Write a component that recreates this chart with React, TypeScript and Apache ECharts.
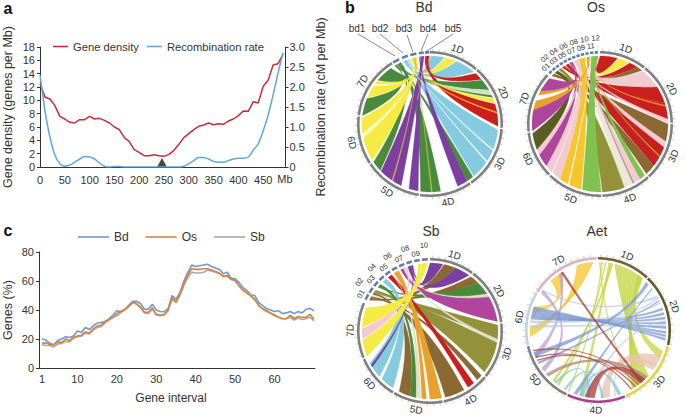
import React, { useEffect, useRef } from "react";
import * as echarts from "echarts";

const FONT = "'Liberation Sans', Arial, sans-serif";
const INK = "#333333";

// Panel a
const positionsMb = [0, 5, 10, 20, 30, 40, 50, 60, 70, 80, 90, 100, 110, 120, 130, 140, 150, 160, 170, 180, 190, 200, 210, 220, 230, 240, 250, 260, 270, 280, 290, 300, 310, 320, 330, 340, 350, 360, 370, 380, 390, 400, 410, 420, 430, 440, 450, 460, 470, 480, 490];
const geneDensity = [12.5, 11.5, 10.5, 10.2, 9.2, 7.6, 7.2, 6.7, 6.6, 7.1, 7.1, 7.6, 7.2, 7.3, 7, 6.6, 6, 5.6, 4.4, 3.8, 2.6, 2.2, 1.7, 1.7, 1.85, 1.7, 1.6, 1.9, 2.5, 3.4, 4.4, 5, 5.6, 6.1, 6.3, 6.6, 6.35, 6.5, 6.4, 6.9, 7.2, 7.7, 8.4, 8.35, 9.8, 9.6, 12.1, 13, 15.3, 15.5, 16.9];
const recombinationRate = [2.3, 1.85, 1.4, 0.75, 0.3, 0.08, 0.02, 0.05, 0.12, 0.2, 0.26, 0.25, 0.2, 0.1, 0.02, 0, 0.01, 0.01, 0, 0, 0, 0, 0, 0, 0, 0, 0, 0, 0, 0, 0.02, 0.08, 0.16, 0.24, 0.24, 0.2, 0.14, 0.12, 0.12, 0.16, 0.2, 0.22, 0.22, 0.25, 0.42, 0.58, 0.9, 1.3, 1.8, 2.35, 2.85];
const centromereMb = 246;

// Panel c
const geneIntervals = Array.from({ length: 70 }, (_, i) => i + 1);
const intervalTicks = [1, 10, 20, 30, 40, 50, 60];
const genesBd = [20, 19.3, 17, 16, 19, 20, 21.5, 21, 22, 25.5, 24.5, 28, 26.5, 29, 31, 31.3, 32, 34, 36.5, 39.5, 39, 40, 43, 46, 46, 44.5, 40.5, 40.5, 44, 40, 39, 38.8, 41, 50, 47.5, 52, 60, 66, 71, 70, 70.5, 71, 71.5, 70, 69, 68, 65, 66, 62, 61.5, 59, 55.5, 53.5, 50.5, 50, 45, 43, 41, 40, 39, 39.5, 37.5, 38, 39, 37.5, 39, 38, 40.5, 41, 39.5];
const genesOs = [17, 17.5, 16, 16, 18, 17.5, 20, 19, 21, 22, 22.5, 25, 24, 27, 29, 29.5, 32, 33.5, 35, 37.5, 39, 40.5, 43, 45.5, 44.5, 42, 38.5, 38.5, 41.5, 37, 36.5, 37, 40, 48.5, 46, 51, 58, 64, 68.5, 68, 68, 68.5, 68.5, 67.5, 66.5, 65.5, 63, 64, 61.5, 60.5, 56.5, 53.5, 51.5, 49.5, 47, 43, 41, 39.5, 38, 36.5, 35, 34, 34, 36.5, 34, 35.5, 35, 35, 37, 33.5];
const genesSb = [16, 15.5, 15.5, 14.5, 16.5, 17, 18.5, 18, 20.5, 21.5, 22, 24, 23.5, 26, 28, 28.5, 31, 33, 35, 36, 38, 40, 42, 45, 44, 41.5, 38, 37.5, 40.5, 36.5, 36, 36.5, 39.5, 47.5, 45, 50, 57, 62.5, 66, 65.5, 65.5, 66, 67.5, 67, 66, 65, 63.5, 63, 61, 60, 57, 54, 52, 50, 47.5, 43, 40.5, 39, 37.5, 36, 35, 34, 34, 35, 33, 34.5, 33.5, 34, 35, 32.5];

// Panel b palette
const SKY = "#84cbe0", YEL = "#f6ea45", GRN = "#4a8a3c", RED = "#c9201f", PUR = "#7a3fa0", WHT = "#ffffff";
const PNK = "#f1cbd1", BRN = "#8a6a32", OLV = "#93923b", LGR = "#7fc250", GLD = "#f5c62e", MAG = "#b0459e", ORG = "#e9a12e", DOL = "#5a5c24", PAL = "#dfe0c8";
const LIM = "#c3d640", BLU = "#7e9ad0", LIL = "#b9a0cf", BRK = "#a83c34", TEA = "#7fc8dc", PEA = "#e8c2ae", MAU = "#a98a82", PBL = "#bccbe6";

const chromNames = ["1D", "2D", "3D", "4D", "5D", "6D", "7D"];

// [chromosome start, end] in degrees clockwise from 12 o'clock
const bdChromosomes = [[0, 40], [41, 93], [94, 145], [146, 188], [189, 236], [237, 276], [277, 328]];
const osChromosomes = [[0, 38], [39, 89], [90, 137], [138, 178], [179, 224], [225, 263], [264, 313]];
const sbChromosomes = [[0, 36], [37, 83], [84, 129], [130, 169], [170, 210], [211, 247], [248, 293]];
const aetChromosomes = [[0, 43], [44, 102], [103, 157], [158, 205], [206, 257], [258, 301], [302, 359]];
const aetRingColors = ["#75603a", "#5f5a2c", "#d8d843", "#a8428e", "#808080", "#bcd3e2", "#d9b3c2"];

// [start, end] query chromosome blocks
const bdQueries = [[329, 334.5], [337, 342], [344, 349], [351, 355], [356, 359.5]];
const bdQueryNames = ["bd1", "bd2", "bd3", "bd4", "bd5"];
const osQueries = [[315, 317.6], [318.7, 321.3], [322.4, 325], [326.1, 328.7], [329.8, 332.4], [333.5, 336.1], [337.2, 339.8], [340.9, 343.5], [344.6, 347.2], [348.3, 350.9], [352, 354.6], [355.7, 358.3]];
const osQueryNames = ["01", "02", "03", "04", "05", "06", "07", "08", "09", "10", "11", "12"];
const sbQueries = [[296, 300.6], [302.4, 307], [308.8, 313.4], [315.2, 319.8], [321.6, 326.2], [328, 332.6], [334.4, 339], [340.8, 345.4], [347.2, 351.8], [353.6, 358.2]];
const sbQueryNames = ["01", "02", "03", "04", "05", "06", "07", "08", "09", "10"];

// Ribbons: [a start, a end, b start, b end, colour, optional crossing point]
const bdRibbons: any[] = [
  [95, 110, 339, 340, SKY], [110, 140, 340, 342, SKY], [1, 12, 337, 338, SKY], [23, 40, 338, 339, SKY],
  [13, 22, 344, 345, YEL], [42, 49, 356, 357, RED], [73, 92, 357, 359.5, RED], [50, 60, 329, 330.5, GRN],
  [60, 64, 330.5, 331, "#cfe0c4"], [65, 67, 331, 331.5, GRN], [68, 72, 345, 345.5, YEL], [141, 147, 331.5, 332, GRN],
  [147, 156, 351, 352, PUR], [171, 188, 332, 333.5, GRN], [190, 198, 352.5, 353, PUR], [205, 226, 353, 355, PUR],
  [227, 236, 333.5, 334.5, GRN], [238, 258, 345.5, 347, YEL], [258, 261, 347, 347.2, "#fbf6b0"], [262, 275, 347, 348, YEL], [277, 292, 329, 330, GRN],
  [293, 304, 348, 348.5, YEL], [306, 309, 348.5, 349, YEL], [310, 325, 334, 334.5, GRN],
  [112, 113, 340.4, 340.5, WHT], [123, 124, 341, 341.1, WHT], [80, 81, 345.5, 345.7, GLD], [213, 214, 347, 347.2, "#e3b64a"], [178, 179, 347, 347.2, "#b5c24a"],
];
const osRibbons: any[] = [
  [0, 15, 358, 358.3, RED], [16, 25, 348.3, 349.3, YEL], [26, 33, 326.1, 327, RED], [33, 38, 315, 316, BRN],
  [39, 57, 337.2, 339.8, PNK], [57, 72, 327, 328, RED], [72, 86, 328, 328.7, RED], [74, 75, 349.3, 349.8, ORG],
  [86, 89, 339.8, 340, PNK], [90, 105, 316, 317.6, BRN], [105, 110, 340, 340.9, PNK], [110, 128, 329.8, 332.4, RED],
  [128, 137, 318.7, 321.3, BRN], [139, 144, 352, 353, LGR], [144, 150, 340.4, 340.9, PNK], [150, 159, 341, 341.5, "#ece8d8"],
  [159, 178, 322.4, 325, OLV], [179, 195, 353, 358, LGR], [196, 216, 342, 347.2, GLD], [216, 224, 341, 341.5, PNK],
  [225, 232, 340, 340.9, PNK], [232, 243, 333.5, 334.5, MAG], [243, 248, 339, 339.8, PNK], [248, 262, 319, 321.3, DOL],
  [264, 282, 334.5, 335, MAG], [282, 290, 349.8, 350.4, ORG], [295, 299, 350.4, 350.9, ORG], [299, 312, 335, 336.1, MAG],
  [118, 119, 351, 351.3, "#b5b03c"], [150, 151, 349, 349.3, MAU], [207, 208, 352, 352.3, WHT],
];
const sbRibbons: any[] = [
  [0, 11, 341, 344, PUR], [12, 22, 297, 298, BRN], [22, 35, 344, 345.4, PUR], [37, 45, 298, 299, BRN],
  [45, 57, 310, 311, GRN], [57, 60, 338, 339, PAL], [60, 82, 334.4, 337, MAG], [85, 97, 304, 305.5, OLV],
  [97, 100, 337, 338, PAL], [100, 127, 305.5, 307, OLV], [131, 136, 299, 300, BRN], [140, 146, 322, 326, RED],
  [150, 167, 300, 300.6, BRN], [170, 180, 328, 331, ORG], [183, 187, 331, 332.6, ORG], [188, 192, 326, 326.2, PAL],
  [192, 197, 311, 313.4, GRN], [197, 207, 302.4, 304, BRN], [213, 225, 316, 318, SKY], [228, 242, 318, 320, SKY],
  [238, 240, 345, 345.4, PUR], [248, 262, 350, 353, YEL], [263, 272, 339, 340.5, PNK], [273, 290, 353.6, 358, YEL],
];
const AET_CROSS = [25, 78];
const AET_LIME = [26, 82];
const AET_GOLD_A = [32, 310];
const AET_GOLD_B = [37, 309];
const AET_LILAC = [31, 289];
const aetRibbons: any[] = [
  [1, 2, 148, 149, LIM], [3, 4, 205, 206, LIM], [6, 7, 215, 217, LIM], [9, 11, 193, 196, LIM], [11, 13, 220, 222, LIM],
  [14, 18, 132, 135, LIM, AET_LIME], [18, 22, 135, 138, LIM, AET_LIME], [22, 26.5, 138, 141, LIM, AET_LIME],
  [26.5, 31, 141, 144, LIM, AET_LIME], [31, 36, 144, 147, LIM, AET_LIME], [36, 41, 147, 150, LIM, AET_LIME],
  [36, 40, 108, 115, LIM, AET_CROSS],
  [170, 178, 112, 126, PEA], [165, 166, 120, 122, PEA], [305, 306, 60, 62, PBL],
  [192, 196, 160, 163, TEA], [175, 177, 208, 210, TEA], [187, 189, 218, 220, TEA],
  [342, 345, 264, 266, GLD, AET_GOLD_A], [345, 349, 266, 268, GLD, AET_GOLD_A], [349, 353, 268, 270, GLD, AET_GOLD_A], [353, 356, 270, 272, GLD, AET_GOLD_A],
  [316, 328, 284, 290, GLD, AET_GOLD_B], [325, 328, 245, 250, LIL, AET_LILAC], [303, 306, 232, 236, LIL],
  [62, 63, 277, 278, PBL, AET_CROSS], [66, 67, 276, 277, PBL, AET_CROSS], [86, 88, 272, 274, PBL, AET_CROSS],
  [71, 73, 279, 280, BLU, AET_CROSS], [75, 77, 280, 281, BLU, AET_CROSS], [79, 81, 281, 282, BLU, AET_CROSS], [83, 85, 282, 283, BLU, AET_CROSS],
  [87, 89, 283, 285, BLU, AET_CROSS], [91, 93, 285, 286.5, BLU, AET_CROSS], [94, 96, 286.5, 288, BLU, AET_CROSS], [97, 99, 288, 290, BLU, AET_CROSS],
  [45, 48, 247, 251, BLU, AET_CROSS], [64, 65, 240, 242, BLU, AET_CROSS], [52, 53, 198, 201, BLU, AET_CROSS], [82, 83, 189, 192, PBL, AET_CROSS],
  [227, 230, 133, 138, MAU], [327, 329, 139, 141, BRK], [183, 191, 136, 142, BRK], [243, 244, 146, 147, BRK],
  [246, 247, 150, 151, BRK], [252, 253, 143, 144, BRK],
];

const RING = 73, RING_IN = 70.4, RIBBON = 68;
const QUERY_COLOR = "#5f7ea8";

const arcPoints = (api: any, r: number, a1: number, a2: number) => {
  const n = Math.max(1, Math.ceil(Math.abs(a2 - a1) / 1.5));
  const pts: number[][] = [];
  for (let i = 0; i <= n; i++) pts.push(api.coord([r, a1 + ((a2 - a1) * i) / n]));
  return pts;
};
const toL = (pts: number[][]) => pts.map((p) => `L${p[0].toFixed(2)} ${p[1].toFixed(2)}`).join("");

const ribbonRender = (ribbons: any[], pivot: number[] | null, opacity: number, centre: number[]) => (params: any, api: any) => {
  const rb = ribbons[params.dataIndex];
  const A = arcPoints(api, RIBBON, rb[0], rb[1]);
  const B = arcPoints(api, RIBBON, rb[2], rb[3]);
  const via = rb[5] || pivot;
  const ctrl = (p: number[], q: number[]) => {
    if (via) return api.coord(via);
    return [centre[0] + ((p[0] + q[0]) / 2 - centre[0]) * 0.3, centre[1] + ((p[1] + q[1]) / 2 - centre[1]) * 0.3];
  };
  const c1 = ctrl(A[A.length - 1], B[0]);
  const c2 = ctrl(B[B.length - 1], A[0]);
  const d = `M${A[0][0].toFixed(2)} ${A[0][1].toFixed(2)}${toL(A.slice(1))}` +
    `Q${c1[0].toFixed(2)} ${c1[1].toFixed(2)} ${B[0][0].toFixed(2)} ${B[0][1].toFixed(2)}${toL(B.slice(1))}` +
    `Q${c2[0].toFixed(2)} ${c2[1].toFixed(2)} ${A[0][0].toFixed(2)} ${A[0][1].toFixed(2)}Z`;
  return { type: "path", silent: true, shape: { pathData: d }, style: { fill: rb[4], opacity, stroke: rb[4], lineWidth: 0.25 } };
};

const band = (api: any, a1: number, a2: number, fill: string) => {
  const o = arcPoints(api, RING, a1, a2);
  const i = arcPoints(api, RING_IN, a2, a1);
  const d = `M${o[0][0].toFixed(2)} ${o[0][1].toFixed(2)}${toL(o.slice(1))}${toL(i)}Z`;
  return { type: "path", silent: true, shape: { pathData: d }, style: { fill } };
};

const ringRender = (chroms: number[][], colors: string[] | null) => (params: any, api: any) => {
  const i = params.dataIndex;
  const [a1, a2] = chroms[i];
  const children: any[] = [band(api, a1, a2, colors ? colors[i] : "#808080")];
  for (let a = a1 + 2; a < a2; a += 5) {
    const p = api.coord([RING, a]);
    const q = api.coord([RING + 2.4, a]);
    children.push({ type: "line", silent: true, shape: { x1: p[0], y1: p[1], x2: q[0], y2: q[1] }, style: { stroke: "#a8a8a8", lineWidth: 0.6 } });
  }
  const mid = (a1 + a2) / 2;
  const pos = api.coord([RING + 7, mid]);
  let t = mid;
  if (t > 90 && t < 270) t -= 180;
  children.push({
    type: "text", silent: true, x: pos[0], y: pos[1], rotation: (-t * Math.PI) / 180,
    style: { text: chromNames[i], fill: INK, fontSize: 10, fontFamily: FONT, align: "center", verticalAlign: "middle" },
  });
  return { type: "group", children };
};

const queryRender = (blocks: number[][], names: string[] | null) => (params: any, api: any) => {
  const i = params.dataIndex;
  const [a1, a2] = blocks[i];
  const children: any[] = [band(api, a1, a2, QUERY_COLOR)];
  if (names) {
    const mid = (a1 + a2) / 2;
    const pos = api.coord([i % 2 === 0 ? 78.5 : 86, mid]);
    children.push({
      type: "text", silent: true, x: pos[0], y: pos[1], rotation: (-mid * Math.PI) / 180,
      style: { text: names[i], fill: INK, fontSize: 7.5, fontFamily: FONT, align: "center", verticalAlign: "middle" },
    });
  }
  return { type: "group", children };
};

const panels = [
  { id: "Bd", centre: [430, 124], chroms: bdChromosomes, colors: null, queries: bdQueries, names: null, ribbons: bdRibbons, pivot: [38, 345], opacity: 1 },
  { id: "Os", centre: [600, 124], chroms: osChromosomes, colors: null, queries: osQueries, names: osQueryNames, ribbons: osRibbons, pivot: [36, 344], opacity: 1 },
  { id: "Sb", centre: [430, 331], chroms: sbChromosomes, colors: null, queries: sbQueries, names: sbQueryNames, ribbons: sbRibbons, pivot: [29, 337], opacity: 1 },
  { id: "Aet", centre: [598, 330], chroms: aetChromosomes, colors: aetRingColors, queries: [], names: null, ribbons: aetRibbons, pivot: null, opacity: 0.75 },
];

const textEl = (text: string, x: number, y: number, fontSize: number, extra: any = {}) => ({
  type: "text", x, y, silent: true,
  style: { text, fill: INK, fontSize, fontFamily: FONT, align: "center", verticalAlign: "middle", ...extra },
});
const leaderEl = (x1: number, y1: number, x2: number, y2: number) => ({
  type: "line", silent: true, shape: { x1, y1, x2, y2 }, style: { stroke: "#555555", lineWidth: 0.7 },
});

const axisLine = { show: true, lineStyle: { color: INK, width: 1 } };
const label = { color: INK, fontSize: 11, fontFamily: FONT };
const nameStyle = { color: INK, fontSize: 12.5, fontFamily: FONT };

export default function App() {
  const ref = useRef<HTMLDivElement>(null);
  useEffect(() => {
    const chart = echarts.init(ref.current!, undefined, { renderer: "svg" });
    const polar: any[] = [], angleAxis: any[] = [], radiusAxis: any[] = [], circos: any[] = [];
    panels.forEach((p, i) => {
      polar.push({ center: p.centre, radius: RING });
      angleAxis.push({ polarIndex: i, show: false, min: 0, max: 360, startAngle: 90, clockwise: true });
      radiusAxis.push({ polarIndex: i, show: false, min: 0, max: RING });
      const common = { type: "custom", coordinateSystem: "polar", polarIndex: i, silent: true, encode: { radius: 0, angle: 1 }, clip: false };
      circos.push({ ...common, name: `ribbons ${p.id}`, data: p.ribbons.map((r) => [RIBBON, r[0]]), renderItem: ribbonRender(p.ribbons, p.pivot, p.opacity, p.centre) });
      circos.push({ ...common, name: `ring ${p.id}`, data: p.chroms.map((c) => [RING, c[0]]), renderItem: ringRender(p.chroms, p.colors) });
      if (p.queries.length) circos.push({ ...common, name: `query ${p.id}`, data: p.queries.map((c) => [RING, c[0]]), renderItem: queryRender(p.queries, p.names) });
    });

    chart.setOption({
      animation: false,
      backgroundColor: "#ffffff",
      textStyle: { fontFamily: FONT },
      grid: [
        { left: 38, top: 47, width: 247.5, height: 120, containLabel: false },
        { left: 37, top: 252, width: 278, height: 116, containLabel: false },
      ],
      legend: [
        { left: 53, top: 41, padding: 0, itemWidth: 15, itemHeight: 1.6, itemGap: 8, icon: "rect", data: ["Gene density", "Recombination rate"], textStyle: { color: INK, fontSize: 11.2, fontFamily: FONT }, selectedMode: false },
        { left: 78, top: 231, padding: 0, itemWidth: 31, itemHeight: 1.6, itemGap: 17, icon: "rect", data: ["Bd", "Os", "Sb"], textStyle: { color: INK, fontSize: 12, fontFamily: FONT }, selectedMode: false },
      ],
      xAxis: [
        { gridIndex: 0, type: "value", min: 0, max: 495, interval: 50, axisLine, axisTick: { show: false }, splitLine: { show: false }, axisLabel: { ...label, margin: 7, showMaxLabel: false } },
        { gridIndex: 1, type: "value", min: 0.244, max: 70.27, axisLine, axisTick: { show: false }, splitLine: { show: false }, axisLabel: { ...label, margin: 5, customValues: intervalTicks } },
      ],
      yAxis: [
        { gridIndex: 0, type: "value", min: 0, max: 18, interval: 2, axisLine, axisTick: { show: true, length: 3, lineStyle: { color: INK } }, splitLine: { show: false }, axisLabel: { ...label, margin: 5 }, name: "Gene density (genes per Mb)", nameLocation: "middle", nameGap: 26, nameRotate: 90, nameTextStyle: nameStyle },
        { gridIndex: 0, type: "value", position: "right", min: 0, max: 3, interval: 0.5, axisLine, axisTick: { show: true, length: 3, lineStyle: { color: INK } }, splitLine: { show: false }, axisLabel: { ...label, margin: 4, formatter: (v: number) => (v === 0 ? "0" : v.toFixed(1)) }, name: "Recombination rate (cM per Mb)", nameLocation: "middle", nameGap: 29, nameRotate: 90, nameTextStyle: nameStyle },
        { gridIndex: 1, type: "value", min: 0, max: 80, interval: 20, axisLine, axisTick: { show: true, length: 3, lineStyle: { color: INK } }, splitLine: { show: false }, axisLabel: { ...label, margin: 5 }, name: "Genes (%)", nameLocation: "middle", nameGap: 25, nameRotate: 90, nameTextStyle: nameStyle },
      ],
      polar, angleAxis, radiusAxis,
      series: [
        { type: "line", name: "Gene density", xAxisIndex: 0, yAxisIndex: 0, showSymbol: false, color: "#c5303a", lineStyle: { width: 1.5 }, data: positionsMb.map((x, i) => [x, geneDensity[i]]) },
        { type: "line", name: "Recombination rate", xAxisIndex: 0, yAxisIndex: 1, showSymbol: false, smooth: 0.3, color: "#63a8da", lineStyle: { width: 1.5 }, data: positionsMb.map((x, i) => [x, recombinationRate[i]]) },
        { type: "scatter", name: "centromere", xAxisIndex: 0, yAxisIndex: 0, symbol: "triangle", symbolSize: [10, 9], symbolOffset: [0, -4.5], itemStyle: { color: "#1a1a1a" }, data: [[centromereMb, 0]] },
        { type: "line", name: "Bd", xAxisIndex: 1, yAxisIndex: 2, showSymbol: false, color: "#6f9bd1", lineStyle: { width: 1.6 }, data: geneIntervals.map((x, i) => [x, genesBd[i]]) },
        { type: "line", name: "Sb", xAxisIndex: 1, yAxisIndex: 2, showSymbol: false, color: "#a9a9a9", lineStyle: { width: 1.6 }, data: geneIntervals.map((x, i) => [x, genesSb[i]]) },
        { type: "line", name: "Os", xAxisIndex: 1, yAxisIndex: 2, showSymbol: false, color: "#d9833f", lineStyle: { width: 1.6 }, data: geneIntervals.map((x, i) => [x, genesOs[i]]) },
        ...circos,
      ],
      graphic: [
        textEl("a", 8, 8, 16, { fontWeight: "bold", fill: "#111" }),
        textEl("b", 350, 7, 16, { fontWeight: "bold", fill: "#111" }),
        textEl("c", 8, 230, 16, { fontWeight: "bold", fill: "#111" }),
        textEl("Mb", 285, 179, 11),
        textEl("Gene interval", 171, 398, 12),
        textEl("Bd", 424, 7, 14),
        textEl("Os", 596, 7, 14),
        textEl("Sb", 431, 231, 14),
        textEl("Aet", 597, 231, 14),
        textEl(bdQueryNames[0], 357, 28, 10),
        textEl(bdQueryNames[1], 380, 28, 10),
        textEl(bdQueryNames[2], 404, 28, 10),
        textEl(bdQueryNames[3], 428, 28, 10),
        textEl(bdQueryNames[4], 453, 28, 10),
        leaderEl(358, 34, 395, 56),
        leaderEl(380, 34, 403, 53),
        leaderEl(407, 35, 413, 52),
        leaderEl(428, 34, 421, 51),
        leaderEl(453, 34, 427, 51),
      ],
    });
    return () => chart.dispose();
  }, []);
  return <div ref={ref} style={{ position: "absolute", left: 0, top: 0, width: 685, height: 416 }} />;
}
